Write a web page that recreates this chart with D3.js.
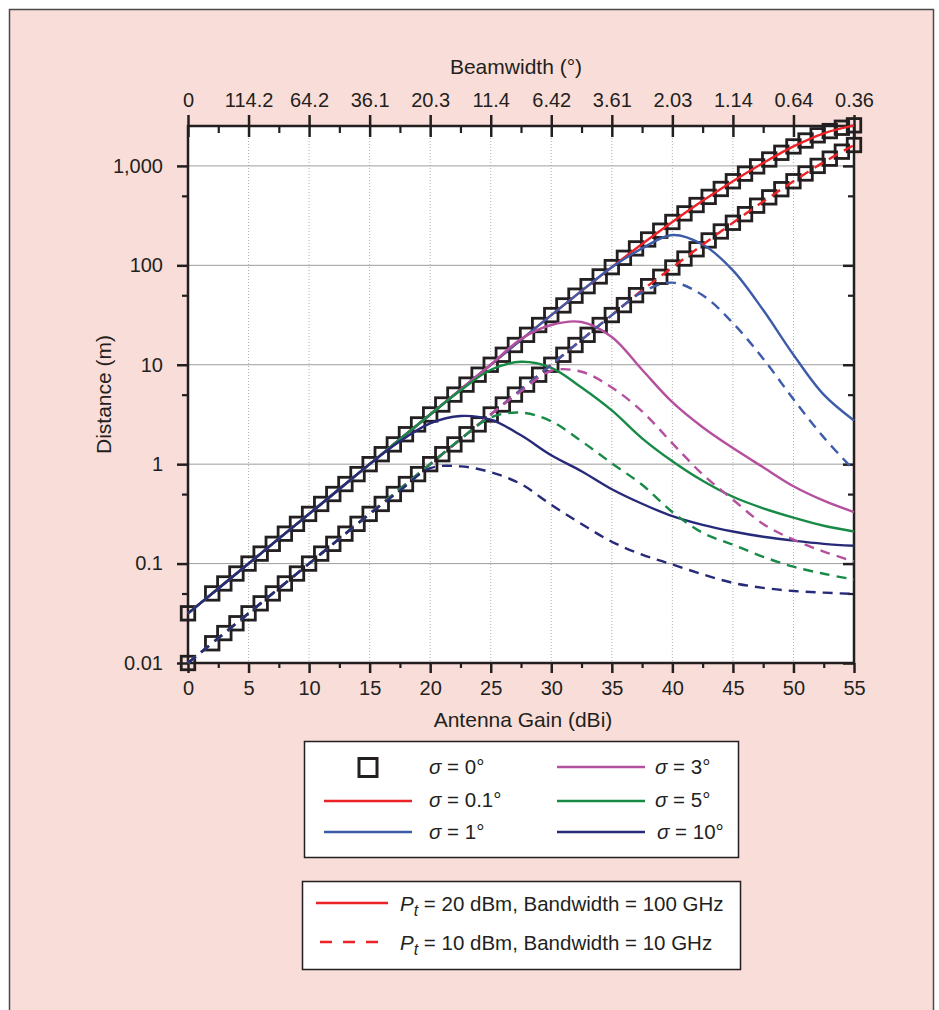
<!DOCTYPE html>
<html>
<head>
<meta charset="utf-8">
<script src="https://cdn.jsdelivr.net/npm/d3@7"></script>
<style>
  body { margin: 0; background: #fff; }
  svg { display: block; font-family: "Liberation Sans", Arial, sans-serif; }
</style>
</head>
<body>
<div id="vis"></div>
<script>
// ---- data ----
// gains (dBi) where the sigma = 0 squares sit
const GAIN_PTS = [0, 2, 3, 4, 5, 6, 7, 8, 9, 10, 11, 12, 13, 14, 15, 16, 17, 18, 19, 20,
  21, 22, 23, 24, 25, 26, 27, 28, 29, 30, 31, 32, 33, 34, 35, 36, 37, 38, 39, 40,
  41, 42, 43, 44, 45, 46, 47, 48, 49, 50, 51, 52, 53, 54, 55];
// distance (m), Pt = 20 dBm, BW = 100 GHz, sigma = 0
const SIGMA0_HI = [0.0316, 0.0501, 0.0631, 0.0794, 0.1, 0.126, 0.158, 0.2, 0.251, 0.316,
  0.398, 0.501, 0.631, 0.794, 1.0, 1.26, 1.58, 2.0, 2.51, 3.16,
  3.98, 5.01, 6.31, 7.94, 10, 12.6, 15.8, 20, 25.1, 31.6,
  39.5, 49.5, 61.7, 77.3, 95.9, 119, 148, 182, 223, 273,
  333, 404, 488, 586, 701, 836, 989, 1160, 1355, 1570,
  1800, 2030, 2240, 2420, 2560];
// distance (m), Pt = 10 dBm, BW = 10 GHz, sigma = 0
const SIGMA0_LO = [0.01, 0.0158, 0.02, 0.0251, 0.0316, 0.0398, 0.0501, 0.0631, 0.0794, 0.1,
  0.126, 0.158, 0.2, 0.251, 0.316, 0.398, 0.501, 0.631, 0.794, 1.0,
  1.26, 1.58, 2.0, 2.51, 3.16, 3.98, 5.01, 6.31, 7.94, 10,
  12.6, 15.8, 20, 25.1, 31.6, 39.8, 50.1, 61.7, 76.7, 95.1,
  117, 145, 178, 219, 268, 327, 398, 483, 583, 701,
  839, 1000, 1183, 1390, 1622];

// gains for the pointing-error curves
const GAIN_GRID = [0, 2.5, 5, 7.5, 10, 12.5, 15, 17.5, 20, 22.5, 25, 27.5, 30,
  32.5, 35, 37.5, 40, 42.5, 45, 47.5, 50, 52.5, 55];

// solid curves (Pt = 20 dBm, BW = 100 GHz)
const HI_S01 = [0.0316, 0.0562, 0.1, 0.178, 0.316, 0.562, 1.0, 1.78, 3.16, 5.62, 10, 17.8, 31.6,
  55.3, 95.9, 164, 273, 445, 701, 1070, 1570, 2130, 2560];
const HI_S1 = [0.0316, 0.0562, 0.1, 0.178, 0.316, 0.562, 1.0, 1.78, 3.16, 5.62, 10, 17.8, 31.6,
  55.3, 95.5, 148, 202, 162, 89, 35.5, 12.6, 5.0, 2.75];
const HI_S3 = [0.0316, 0.0562, 0.1, 0.178, 0.316, 0.562, 1.0, 1.78, 3.16, 5.62, 10, 18.2, 25.1,
  26.9, 19, 8.9, 4.2, 2.35, 1.45, 0.93, 0.6, 0.43, 0.33];
const HI_S5 = [0.0316, 0.0562, 0.1, 0.178, 0.316, 0.562, 1.0, 1.78, 3.16, 5.5, 8.9, 10.7, 9.3,
  5.9, 3.47, 1.82, 1.07, 0.68, 0.47, 0.36, 0.29, 0.24, 0.21];
const HI_S10 = [0.0316, 0.0562, 0.1, 0.178, 0.316, 0.562, 1.0, 1.7, 2.57, 3.05, 2.8, 1.95, 1.23,
  0.85, 0.56, 0.40, 0.30, 0.245, 0.21, 0.186, 0.17, 0.158, 0.151];

// dashed curves (Pt = 10 dBm, BW = 10 GHz)
const LO_S01 = [0.01, 0.0178, 0.0316, 0.0562, 0.1, 0.178, 0.316, 0.562, 1.0, 1.78, 3.16, 5.62, 10,
  17.8, 31.6, 56.2, 95.1, 161, 268, 438, 701, 1090, 1620];
const LO_S1 = [0.01, 0.0178, 0.0316, 0.0562, 0.1, 0.178, 0.316, 0.562, 1.0, 1.78, 3.16, 5.62, 10,
  17.8, 31.6, 53.7, 67, 50, 26.3, 11.5, 4.5, 1.86, 0.87];
const LO_S3 = [0.01, 0.0178, 0.0316, 0.0562, 0.1, 0.178, 0.316, 0.562, 1.0, 1.78, 3.16, 5.4, 8.7,
  8.5, 5.9, 3.4, 1.62, 0.79, 0.44, 0.25, 0.174, 0.132, 0.105];
const LO_S5 = [0.01, 0.0178, 0.0316, 0.0562, 0.1, 0.178, 0.316, 0.562, 1.0, 1.78, 2.95, 3.3, 2.7,
  1.7, 1.02, 0.62, 0.33, 0.204, 0.155, 0.117, 0.093, 0.079, 0.069];
const LO_S10 = [0.01, 0.0178, 0.0316, 0.0562, 0.1, 0.178, 0.316, 0.54, 0.91, 0.95, 0.83, 0.63, 0.39,
  0.25, 0.166, 0.123, 0.098, 0.078, 0.064, 0.057, 0.053, 0.051, 0.0495];

// axis ticks
const X_TICKS = [0, 5, 10, 15, 20, 25, 30, 35, 40, 45, 50, 55];
const X_MINOR = [2.5, 7.5, 12.5, 17.5, 22.5, 27.5, 32.5, 37.5, 42.5, 47.5, 52.5];
const BEAM_LABELS = ["0", "114.2", "64.2", "36.1", "20.3", "11.4", "6.42", "3.61", "2.03", "1.14", "0.64", "0.36"];
const Y_TICKS = [0.01, 0.1, 1, 10, 100, 1000];
const Y_LABELS = ["0.01", "0.1", "1", "10", "100", "1,000"];
const Y_MINOR = [0.05, 0.5, 5, 50, 500];

// ---- layout ----
const FRAME_WIDTH = 939;
const FRAME_HEIGHT = 1010;
const PLOT = {left: 188, right: 854, top: 126, bottom: 663};
const INK = "#231f20";

const COLORS = {s01: "#ec2227", s1: "#3d5ba9", s3: "#b5509f", s5: "#178a46", s10: "#262a78"};

const svg = d3.select("#vis")
  .append("svg")
    .attr("width", FRAME_WIDTH)
    .attr("height", FRAME_HEIGHT);

// pink panel
svg.append("rect")
  .attr("x", 9.5).attr("y", 9.5)
  .attr("width", 924).attr("height", FRAME_HEIGHT)
  .attr("fill", "#f9ddd8")
  .attr("stroke", "#4a4a4a")
  .attr("stroke-width", 1.5);

// plot background
svg.append("rect")
  .attr("x", PLOT.left).attr("y", PLOT.top)
  .attr("width", PLOT.right - PLOT.left).attr("height", PLOT.bottom - PLOT.top)
  .attr("fill", "#fff");

const X_SCALE = d3.scaleLinear().domain([0, 55]).range([PLOT.left, PLOT.right]);
const Y_SCALE = d3.scaleLog().domain([0.01, 2520]).range([PLOT.bottom, PLOT.top]);

// grid
svg.append("g").selectAll("line")
  .data(Y_TICKS.slice(1))
  .enter().append("line")
    .attr("x1", PLOT.left).attr("x2", PLOT.right)
    .attr("y1", d => Y_SCALE(d)).attr("y2", d => Y_SCALE(d))
    .attr("stroke", "#9d9d9d").attr("stroke-width", 1);

svg.append("g").selectAll("line")
  .data(X_TICKS.slice(1, -1))
  .enter().append("line")
    .attr("x1", d => X_SCALE(d)).attr("x2", d => X_SCALE(d))
    .attr("y1", PLOT.top).attr("y2", PLOT.bottom)
    .attr("stroke", "#b0b0b0").attr("stroke-width", 1)
    .attr("stroke-dasharray", "1,2");

// axes helper
function addAxis(axis, tx, ty, width) {
  const g = svg.append("g")
    .attr("transform", "translate(" + tx + "," + ty + ")")
    .call(axis);
  g.select(".domain").remove();
  g.selectAll(".tick line").attr("stroke", INK).attr("stroke-width", width);
  g.selectAll("text").attr("fill", INK).attr("font-size", "20px")
    .attr("font-family", "'Liberation Sans', Arial, sans-serif");
  return g;
}

// bottom
addAxis(d3.axisBottom(X_SCALE).tickValues(X_TICKS).tickSize(10).tickPadding(8), 0, PLOT.bottom, 2.5);
addAxis(d3.axisBottom(X_SCALE).tickValues(X_MINOR).tickSize(5).tickFormat(""), 0, PLOT.bottom, 2.2);
// top (beamwidth)
addAxis(d3.axisTop(X_SCALE).tickValues(X_TICKS).tickSize(11).tickPadding(8)
  .tickFormat((d, i) => BEAM_LABELS[i]), 0, PLOT.top, 2.5);
addAxis(d3.axisBottom(X_SCALE).tickValues(X_TICKS).tickSize(11).tickFormat(""), 0, PLOT.top, 2.5);
addAxis(d3.axisBottom(X_SCALE).tickValues(X_MINOR).tickSize(7).tickFormat(""), 0, PLOT.top, 2.2);
// left
addAxis(d3.axisLeft(Y_SCALE).tickValues(Y_TICKS).tickSize(11).tickPadding(14)
  .tickFormat((d, i) => Y_LABELS[i]), PLOT.left, 0, 2.5);
addAxis(d3.axisLeft(Y_SCALE).tickValues(Y_MINOR).tickSize(6).tickFormat(""), PLOT.left, 0, 2.2);
// right (inward)
addAxis(d3.axisLeft(Y_SCALE).tickValues(Y_TICKS).tickSize(11).tickFormat(""), PLOT.right, 0, 2.5);
addAxis(d3.axisLeft(Y_SCALE).tickValues(Y_MINOR).tickSize(6).tickFormat(""), PLOT.right, 0, 2.2);

// frame
svg.append("rect")
  .attr("x", PLOT.left).attr("y", PLOT.top)
  .attr("width", PLOT.right - PLOT.left).attr("height", PLOT.bottom - PLOT.top)
  .attr("fill", "none").attr("stroke", INK).attr("stroke-width", 2.5);

// axis titles
svg.append("text")
  .attr("x", (PLOT.left + PLOT.right) / 2 + 2).attr("y", 727)
  .attr("text-anchor", "middle").attr("font-size", "21px").attr("fill", INK)
  .text("Antenna Gain (dBi)");
svg.append("text")
  .attr("x", (PLOT.left + PLOT.right) / 2 - 5).attr("y", 74)
  .attr("text-anchor", "middle").attr("font-size", "21px").attr("fill", INK)
  .text("Beamwidth (°)");
svg.append("text")
  .attr("transform", "translate(111," + (PLOT.top + PLOT.bottom) / 2 + ") rotate(-90)")
  .attr("text-anchor", "middle").attr("font-size", "21px").attr("fill", INK)
  .text("Distance (m)");

// sigma = 0 squares
const SQ = 13.5;
[SIGMA0_HI, SIGMA0_LO].forEach(vals => {
  svg.append("g").selectAll("rect")
    .data(GAIN_PTS.map((g, i) => [g, vals[i]]))
    .enter().append("rect")
      .attr("x", d => X_SCALE(d[0]) - SQ / 2)
      .attr("y", d => Y_SCALE(d[1]) - SQ / 2)
      .attr("width", SQ).attr("height", SQ)
      .attr("fill", "none").attr("stroke", INK).attr("stroke-width", 2.8);
});

// curves
const line = d3.line()
  .x(d => X_SCALE(d[0]))
  .y(d => Y_SCALE(d[1]))
  .curve(d3.curveCatmullRom.alpha(0.5));

const SERIES = [
  {vals: HI_S01, color: COLORS.s01, dash: null},
  {vals: HI_S1, color: COLORS.s1, dash: null},
  {vals: HI_S3, color: COLORS.s3, dash: null},
  {vals: HI_S5, color: COLORS.s5, dash: null},
  {vals: HI_S10, color: COLORS.s10, dash: null},
  {vals: LO_S01, color: COLORS.s01, dash: "10,7"},
  {vals: LO_S1, color: COLORS.s1, dash: "10,7"},
  {vals: LO_S3, color: COLORS.s3, dash: "10,7"},
  {vals: LO_S5, color: COLORS.s5, dash: "10,7"},
  {vals: LO_S10, color: COLORS.s10, dash: "10,7"}
];

SERIES.forEach(s => {
  svg.append("path")
    .datum(GAIN_GRID.map((g, i) => [g, s.vals[i]]))
    .attr("d", line)
    .attr("fill", "none")
    .attr("stroke", s.color)
    .attr("stroke-width", 2.4)
    .attr("stroke-dasharray", s.dash);
});

// ---- legends ----
const leg1 = svg.append("g");
leg1.append("rect")
  .attr("x", 304.5).attr("y", 741.5).attr("width", 434).attr("height", 116)
  .attr("fill", "#fff").attr("stroke", INK).attr("stroke-width", 1.5);

leg1.append("rect")
  .attr("x", 359).attr("y", 758.5).attr("width", 18).attr("height", 18)
  .attr("fill", "none").attr("stroke", INK).attr("stroke-width", 3);

const LEG_ITEMS = [
  {label: "0°", x: 429, y: 774, line: null},
  {label: "0.1°", x: 429, y: 807, line: [324, 412, 801, COLORS.s01]},
  {label: "1°", x: 429, y: 839, line: [324, 412, 832, COLORS.s1]},
  {label: "3°", x: 655, y: 774, line: [557, 645, 767, COLORS.s3]},
  {label: "5°", x: 655, y: 807, line: [557, 645, 801, COLORS.s5]},
  {label: "10°", x: 657, y: 839, line: [557, 645, 832, COLORS.s10]}
];

LEG_ITEMS.forEach(it => {
  if (it.line) {
    leg1.append("line")
      .attr("x1", it.line[0]).attr("x2", it.line[1])
      .attr("y1", it.line[2]).attr("y2", it.line[2])
      .attr("stroke", it.line[3]).attr("stroke-width", 2.5);
  }
  const t = leg1.append("text")
    .attr("x", it.x).attr("y", it.y)
    .attr("font-size", "20.5px").attr("fill", INK);
  t.append("tspan").attr("font-style", "italic").text("σ");
  t.append("tspan").text(" = " + it.label);
});

const leg2 = svg.append("g");
leg2.append("rect")
  .attr("x", 302.5).attr("y", 881.5).attr("width", 438).attr("height", 88)
  .attr("fill", "#fff").attr("stroke", INK).attr("stroke-width", 1.5);

const LEG2_ITEMS = [
  {text: " = 20 dBm, Bandwidth = 100 GHz", y: 911, ly: 903, dash: null},
  {text: " = 10 dBm, Bandwidth = 10 GHz", y: 950, ly: 942, dash: "12,11"}
];

LEG2_ITEMS.forEach(it => {
  leg2.append("line")
    .attr("x1", it.dash ? 320 : 316).attr("x2", 388)
    .attr("y1", it.ly).attr("y2", it.ly)
    .attr("stroke", COLORS.s01).attr("stroke-width", 2.6)
    .attr("stroke-dasharray", it.dash);
  const t = leg2.append("text")
    .attr("x", 400).attr("y", it.y)
    .attr("font-size", "20.5px").attr("fill", INK);
  t.append("tspan").attr("font-style", "italic").text("P");
  t.append("tspan").attr("font-style", "italic").attr("font-size", "16px")
    .attr("dy", 5).text("t");
  t.append("tspan").attr("dy", -5).text(it.text);
});
</script>
</body>
</html>
